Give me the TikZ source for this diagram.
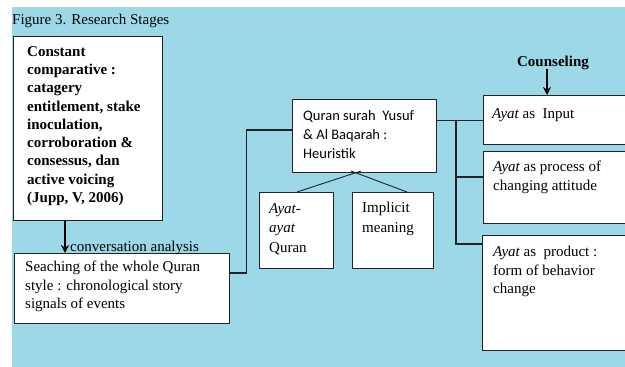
\documentclass[tikz,border=0pt]{standalone}
\usepackage{fontspec}
\setmainfont{Liberation Serif}
\newfontfamily\calfont{Carlito}
\usetikzlibrary{arrows.meta,calc}
\definecolor{bgblue}{RGB}{157,216,233}
\definecolor{edge}{RGB}{35,35,35}
\tikzset{
  boxnode/.style={draw=edge, line width=1.4pt, fill=white, rectangle, inner sep=0pt, anchor=north west},
  txt/.style={anchor=north west, inner sep=0pt, align=left, font=\fontsize{15}{18.5}\selectfont},
  bodytxt/.style={txt, font=\fontsize{15}{18.3}\selectfont\bfseries},
  caltxt/.style={txt, font=\calfont\fontsize{14.5}{19}\selectfont},
  conn/.style={draw=edge, line width=1.2pt},
  thin/.style={draw=edge, line width=0.9pt},
  bigarrow/.style={draw=black, line width=2pt, -{Stealth[length=8pt,width=8pt]}}
}
\begin{document}
\begin{tikzpicture}[x=1pt,y=-1pt]
\useasboundingbox (0,0) rectangle (625,367);
\fill[bgblue] (12,7) rectangle (625,367);
\node[txt, anchor=west] (title) at (12,21) {Figure 3. Research Stages};

% left column
\node[boxnode, minimum width=149pt, minimum height=184pt] (b1) at (13,36) {};
\node[bodytxt] (t1) at (27,46) {Constant\\comparative :\\catagery\\entitlement, stake\\inoculation,\\corroboration \&\\consessus, dan\\active voicing\\(Jupp, V, 2006)};

\node[boxnode, minimum width=215pt, minimum height=70pt] (b2) at (14,253) {};
\node[txt] (t2) at (25,261) {Seaching of the whole Quran\\style : chronological story\\signals of events};

\coordinate (a1) at (65,220.7);
\coordinate (a2) at (65,253);
\draw[bigarrow] (a1) -- (a2);
\node[txt, anchor=west] (conv) at (70,248) {conversation analysis};

% middle
\node[boxnode, minimum width=144pt, minimum height=73pt] (q) at (292,99) {};
\node[caltxt] (tq) at (303,110) {Quran surah\ \ Yusuf\\\& Al Baqarah :\\Heuristik};

\node[boxnode, minimum width=74pt, minimum height=76pt] (ay) at (259,192) {};
\node[txt, font=\fontsize{15}{19.5}\selectfont] (tay) at (269,203) {\itshape Ayat-\\\itshape ayat\\Quran};

\node[boxnode, minimum width=81pt, minimum height=76pt] (im) at (352,192) {};
\node[txt, font=\fontsize{15}{19.5}\selectfont] (tim) at (362,202) {Implicit\\meaning};

\coordinate (c1) at (229,273);
\coordinate (c2) at (246.5,273);
\coordinate (c3) at (246.5,130);
\draw[conn] (c1) -- (c2) -- (c3) -- (q.west |- c3);

\coordinate (qa) at (361,171);
\coordinate (qb) at (351,171);
\draw[thin] (qa) -- (ay.north -| 297,192);
\draw[thin] (qb) -- (im.north -| 407,192);

% right column
\node[boxnode, minimum width=150pt, minimum height=49pt] (r1) at (483,95) {};
\node[txt] (tr1) at (492,108) {\itshape Ayat\upshape\ as\ \ Input};

\node[boxnode, minimum width=150pt, minimum height=72pt] (r2) at (483,151) {};
\node[txt] (tr2) at (493,161) {\itshape Ayat\upshape\ as process of\\changing attitude};

\node[boxnode, minimum width=150pt, minimum height=115pt] (r3) at (482,235) {};
\node[txt] (tr3) at (493,246) {\itshape Ayat\upshape\ as\ \ product :\\form of behavior\\change};

\coordinate (j0) at (456,120.5);
\coordinate (j1) at (456,177);
\coordinate (j2) at (456,244);
\draw[conn] (q.east |- j0) -- (r1.west |- j0);
\draw[conn] (j0) -- (j2) -- (r3.west |- j2);
\draw[conn] (j1) -- (r2.west |- j1);

\node[txt, anchor=center, font=\fontsize{15}{18.5}\selectfont\bfseries] (couns) at (553,63) {Counseling};
\coordinate (k1) at (547,69);
\draw[bigarrow] (k1) -- (r1.north -| k1);
\end{tikzpicture}
\end{document}
